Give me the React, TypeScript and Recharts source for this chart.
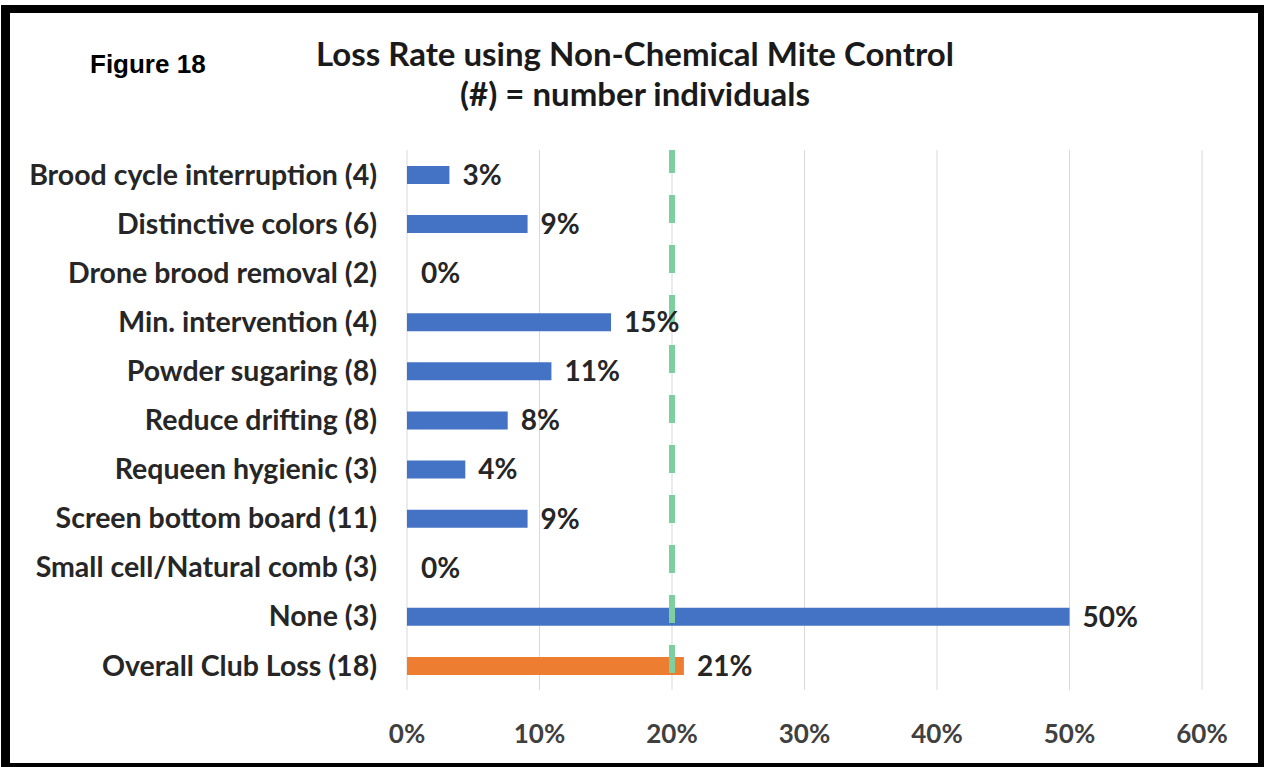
import React from "react";
import { BarChart, Bar, XAxis, YAxis, CartesianGrid, ReferenceLine, LabelList, Cell } from "recharts";

const categories = [
  "Brood cycle interruption (4)",
  "Distinctive colors (6)",
  "Drone brood removal (2)",
  "Min. intervention (4)",
  "Powder sugaring (8)",
  "Reduce drifting (8)",
  "Requeen hygienic (3)",
  "Screen bottom board (11)",
  "Small cell/Natural comb (3)",
  "None (3)",
  "Overall Club Loss (18)",
];
const lossRates = [0.032, 0.091, 0, 0.154, 0.109, 0.076, 0.044, 0.091, 0, 0.5, 0.209];
const barColors = ["#4472C4", "#4472C4", "#4472C4", "#4472C4", "#4472C4", "#4472C4", "#4472C4", "#4472C4", "#4472C4", "#4472C4", "#ED7D31"];
const xTicks = [0, 0.1, 0.2, 0.3, 0.4, 0.5, 0.6];
const referenceRate = 0.2;

const data = categories.map((name, i) => ({ name, value: lossRates[i], color: barColors[i] }));

const pct = (v: any) => `${Math.round(Number(v) * 100)}%`;
const font = "Lato, 'Open Sans', sans-serif";

export default function App() {
  return (
    <div style={{ position: "absolute", left: 0, top: 0, width: 1264, height: 767, background: "#fff" }}>
      <div
        style={{
          position: "absolute",
          left: 1,
          top: 5,
          width: 1263,
          height: 762,
          boxSizing: "border-box",
          borderLeft: "9px solid #000",
          borderTop: "8px solid #000",
          borderRight: "6px solid #000",
          borderBottom: "4px solid #000",
        }}
      />
      <div
        style={{
          position: "absolute",
          left: 90,
          top: 51,
          fontFamily: "'Liberation Sans', Arial, sans-serif",
          fontWeight: 700,
          fontSize: 26,
          lineHeight: "26px",
          color: "#000",
        }}
      >
        Figure 18
      </div>
      <div
        style={{
          position: "absolute",
          left: 0,
          width: 1270,
          top: 33,
          textAlign: "center",
          fontFamily: font,
          fontWeight: 700,
          fontSize: 33,
          lineHeight: "40px",
          color: "#1a1a1a",
        }}
      >
        <div>Loss Rate using Non-Chemical Mite Control</div>
        <div>(#) = number individuals</div>
      </div>
      <div style={{ position: "absolute", left: 0, top: 0 }}>
        <BarChart
          width={1264}
          height={767}
          data={data}
          layout="vertical"
          margin={{ top: 150, right: 62, bottom: 17, left: 0 }}
          barCategoryGap={0}
        >
          <CartesianGrid horizontal={false} vertical={true} stroke="#d9d9d9" strokeWidth={1} />
          <XAxis
            type="number"
            domain={[0, 0.6]}
            ticks={xTicks}
            tickFormatter={pct}
            axisLine={false}
            tickLine={false}
            tickSize={0}
            tickMargin={35}
            height={60}
            interval={0}
            tick={{ fontFamily: font, fontWeight: 700, fontSize: 26, fill: "#404040" }}
          />
          <YAxis
            type="category"
            dataKey="name"
            width={407}
            axisLine={false}
            tickLine={false}
            tickSize={0}
            tickMargin={30}
            interval={0}
            tick={{ fontFamily: font, fontWeight: 700, fontSize: 28.5, fill: "#262626" }}
          />
          <ReferenceLine
            x={referenceRate}
            stroke="#7dcf9f"
            strokeWidth={6}
            strokeDasharray="28 22"
            strokeDashoffset={33}
            ifOverflow="extendDomain"
          />
          <Bar dataKey="value" barSize={18} minPointSize={1} isAnimationActive={false}>
            {data.map((d, i) => (
              <Cell key={i} fill={d.value === 0 ? "transparent" : d.color} />
            ))}
            <LabelList
              dataKey="value"
              position="right"
              offset={13}
              formatter={pct}
              style={{ fontFamily: font, fontWeight: 700, fontSize: 28, fill: "#262626" }}
            />
          </Bar>
        </BarChart>
      </div>
    </div>
  );
}
